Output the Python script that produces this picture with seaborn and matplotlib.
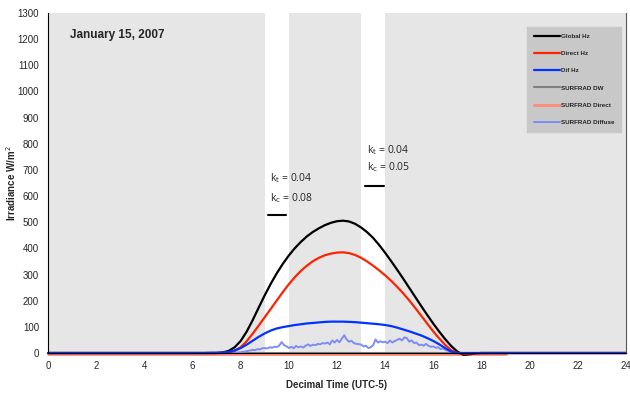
import numpy as np
import matplotlib
matplotlib.use("Agg")
import matplotlib.pyplot as plt
import seaborn as sns

# Datos del modelo (cada 0.25 h)
hora_modelo = [0, 6.5, 6.75, 7.0, 7.25, 7.5, 7.75, 8.0, 8.25, 8.5, 8.75, 9.0, 9.25, 9.5, 9.75,
               10.0, 10.25, 10.5, 10.75, 11.0, 11.25, 11.5, 11.75, 12.0, 12.25, 12.5, 12.75,
               13.0, 13.25, 13.5, 13.75, 14.0, 14.25, 14.5, 14.75, 15.0, 15.25, 15.5, 15.75,
               16.0, 16.25, 16.5, 16.75, 17.0, 17.25, 17.5, 17.75, 18.0, 24]
global_hz = [0, 0, 0, 0, 2, 8, 22, 46, 82, 126, 174, 221, 265, 305, 341,
             373, 401, 425, 446, 463, 477, 489, 498, 504, 506, 503, 494,
             480, 462, 440, 413, 383, 351, 318, 284, 249, 214, 179, 145,
             112, 81, 52, 26, 5, -7, -5, -1, 0, 0]
direct_hz = [0, 0, 0, 0, 0, 2, 8, 22, 45, 74, 105, 137, 169, 201, 233,
             263, 290, 314, 334, 351, 364, 374, 380, 384, 385, 382, 375,
             364, 350, 334, 316, 297, 276, 253, 228, 201, 172, 142, 112,
             82, 55, 30, 10, 0, -2, -2, -1, 0, 0]
dif_hz = [0, 0, 1, 1, 2, 4, 10, 19, 32, 47, 62, 75, 86, 94, 99,
          103, 107, 110, 113, 115, 117, 119, 120, 120, 120, 119, 118,
          116, 114, 112, 110, 107, 103, 97, 90, 83, 75, 67, 57,
          46, 33, 18, 5, 0, 0, 0, 0, 0, 0]

# SURFRAD (medido)
hora_surf = [0, 19]
surf_dw = [0, 0]
surf_direct = [-3, -3]

inicio_difusa = 7.5  # cada 0.1 h
surf_difusa = [0, 1, 1, 2, 2,
               3, 4, 6, 8, 10,
               12, 11, 15, 14, 18,
               19, 17, 22, 20, 24,
               23, 28, 42, 30, 26,
               19, 24, 18, 27, 22,
               25, 21, 28, 33, 27,
               32, 30, 35, 33, 38,
               36, 40, 33, 48, 40,
               50, 41, 55, 68, 52,
               43, 47, 38, 35, 34,
               32, 25, 28, 19, 22,
               30, 52, 40, 45, 41,
               43, 38, 48, 40, 46,
               50, 55, 48, 60, 57,
               43, 48, 38, 40, 30,
               32, 28, 35, 27, 24,
               25, 20, 22, 15, 18,
               12, 9, 6, 3, 1,
               0]
hora_difusa = inicio_difusa + 0.1 * np.arange(len(surf_difusa))

# Bandas blancas y anotaciones
bandas = [(9, 10), (13, 14)]
kt = ["0.04", "0.04"]
kc = ["0.08", "0.05"]

sns.set_style("white")
plt.rcParams['font.family'] = ['Liberation Sans', 'DejaVu Sans']

fig = plt.figure(figsize=(6.3, 3.95), dpi=100)
ax = fig.add_axes([0.0762, 0.1063, 0.9175, 0.8607])
ax.set_facecolor("#e6e6e6")
for a, b in bandas:
    ax.axvspan(a, b, color="white", lw=0)

sns.lineplot(x=hora_surf, y=surf_dw, color="#808080", lw=1.5, ax=ax, label="SURFRAD DW")
sns.lineplot(x=hora_surf, y=surf_direct, color="#ff8a7a", lw=2, ax=ax, label="SURFRAD Direct")
sns.lineplot(x=hora_difusa, y=surf_difusa, color="#7f8cf5", lw=1.4, ax=ax, label="SURFRAD Diffuse")
sns.lineplot(x=hora_modelo, y=global_hz, color="black", lw=1.6, ax=ax, label="Global Hz")
sns.lineplot(x=hora_modelo, y=direct_hz, color="#ff2200", lw=1.6, ax=ax, label="Direct Hz")
sns.lineplot(x=hora_modelo, y=dif_hz, color="#0033ff", lw=1.6, ax=ax, label="Dif Hz")
for ln in ax.lines:
    ln.set_clip_on(False)

ax.set_xlim(0, 24)
ax.set_ylim(0, 1300)
ax.set_xticks(range(0, 25, 2))
ax.set_xticks(np.arange(0, 24.1, 0.5), minor=True)
ax.set_yticks(range(0, 1301, 100))
ax.tick_params(axis="both", labelsize=7, length=3, width=0.8, direction="out")
ax.tick_params(axis="x", which="both", direction="inout", length=4)
ax.tick_params(axis="x", which="minor", length=3)
ax.set_xlabel("Decimal Time (UTC-5)", fontsize=7, fontweight="bold")
ax.xaxis.set_label_coords(0.5, -0.08)
ax.set_ylabel("Irradiance W/m$^2$", fontsize=7, fontweight="bold")
ax.yaxis.set_label_coords(-0.052, 0.5)
ax.spines["top"].set_visible(False)
ax.spines["right"].set_color("#555555")
ax.spines["left"].set_color("black")
ax.spines["bottom"].set_color("black")

ax.text(0.9, 1216, "January 15, 2007", fontsize=8.5, fontweight="bold", va="center")

# anotaciones kt / kc
pos = [(9.22, 670, 593, 528), (13.25, 776, 711, 639)]
for (x0, yt, yc, yd), a, b in zip(pos, kt, kc):
    ax.text(x0, yt, "k$_\\mathrm{t}$ = " + a, fontsize=7.5, family=["Open Sans", "DejaVu Sans"], va="center")
    ax.text(x0, yc, "k$_\\mathrm{c}$ = " + b, fontsize=7.5, family=["Open Sans", "DejaVu Sans"], va="center")
    ax.plot([x0 - 0.08, x0 + 0.68], [yd, yd], color="black", lw=1.5)

handles, labels = ax.get_legend_handles_labels()
orden = [3, 4, 5, 0, 1, 2]
leg = ax.legend([handles[i] for i in orden], [labels[i] for i in orden],
                loc="upper right", bbox_to_anchor=(0.992, 0.96),
                prop={"size": 4.5, "weight": "bold"}, frameon=True, fancybox=False,
                facecolor="#c8c8c8", edgecolor="#c8c8c8", framealpha=1,
                labelspacing=1.9, handlelength=4.2, handletextpad=0.2,
                borderpad=1.1, borderaxespad=0)

fig.savefig("out.png", dpi=100)
